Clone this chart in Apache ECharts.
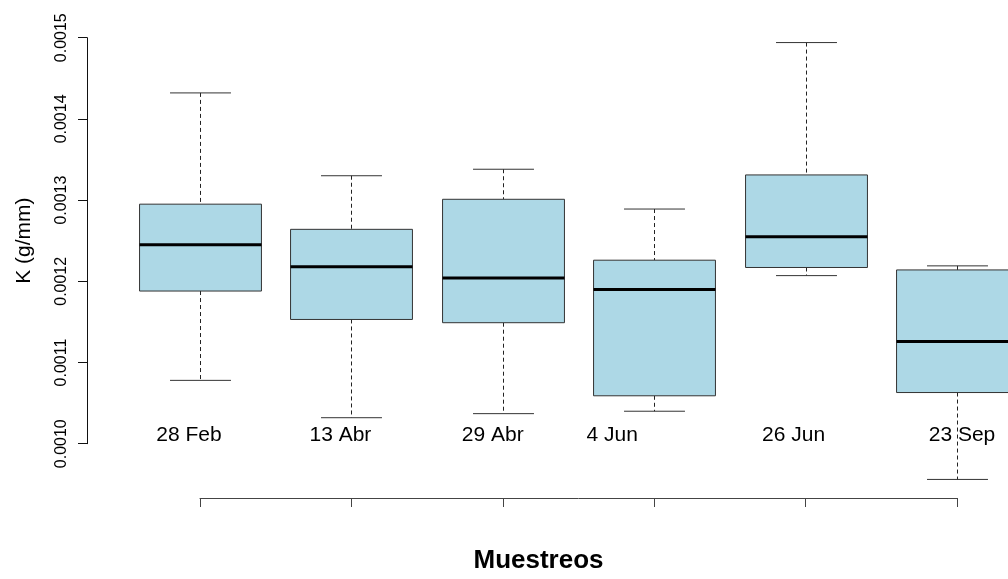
<!DOCTYPE html>
<html>
<head>
<meta charset="utf-8">
<title>K (g/mm) por muestreo</title>
<script src="https://cdn.jsdelivr.net/npm/echarts@6/dist/echarts.min.js"></script>
<style>
  html, body { margin: 0; padding: 0; background: #ffffff; overflow: hidden; }
  #chart { width: 1008px; height: 579px; }
</style>
</head>
<body>
<div id="chart"></div>
<script>
// Sampling dates
const categories = ['28 Feb', '13 Abr', '29 Abr', '4 Jun', '26 Jun', '23 Sep'];

// Five-number summaries of K (g/mm) for each sampling date
const whiskerLow  = [0.001078, 0.001032, 0.001037, 0.001040, 0.001207, 0.000956];
const quartile1   = [0.001188, 0.001153, 0.001149, 0.001059, 0.001217, 0.001063];
const medians     = [0.001245, 0.001218, 0.001204, 0.001190, 0.001255, 0.001126];
const quartile3   = [0.001295, 0.001264, 0.001301, 0.001226, 0.001331, 0.001214];
const whiskerHigh = [0.001432, 0.001330, 0.001338, 0.001289, 0.001494, 0.001219];

// Value axis range and tick step
const yMin = 0.0010;
const yMax = 0.0015;
const yStep = 0.0001;

const boxData = categories.map((c, i) => [
  i, whiskerLow[i], quartile1[i], medians[i], quartile3[i], whiskerHigh[i]
]);

const FONT = '"Liberation Sans", Arial, Helvetica, sans-serif';

// Horizontal nudge (px) of each date label relative to its box
const labelNudge = [-11, -11, -10, -42, -12, 5];

// Rich-text styles that shift each date label sideways via asymmetric padding
const labelRich = {};
labelNudge.forEach((dx, i) => {
  labelRich['d' + i] = {
    fontFamily: FONT,
    fontSize: 21,
    color: '#000',
    padding: dx < 0 ? [0, -2 * dx, 0, 0] : [0, 0, 0, 2 * dx]
  };
});

// Box-and-whisker glyph: filled box, thick median, dashed whiskers, half-width caps
function renderBox(params, api) {
  const i = api.value(0);
  const band = api.size([1, 0])[0];
  const boxW = band * 0.805;
  const capHalf = boxW / 4;
  const pLow = api.coord([i, api.value(1)]);
  const pQ1 = api.coord([i, api.value(2)]);
  const pMed = api.coord([i, api.value(3)]);
  const pQ3 = api.coord([i, api.value(4)]);
  const pHigh = api.coord([i, api.value(5)]);
  const cx = Math.round(pMed[0]) + 0.5;
  const left = cx - boxW / 2;
  const whisker = { stroke: '#222', lineWidth: 1, lineDash: [4, 3] };
  const cap = { stroke: '#333', lineWidth: 1 };
  return {
    type: 'group',
    children: [
      { type: 'line', shape: { x1: cx, y1: pHigh[1], x2: cx, y2: pQ3[1] }, style: whisker },
      { type: 'line', shape: { x1: cx, y1: pQ1[1], x2: cx, y2: pLow[1] }, style: whisker },
      { type: 'line', shape: { x1: cx - capHalf, y1: pHigh[1], x2: cx + capHalf, y2: pHigh[1] }, style: cap },
      { type: 'line', shape: { x1: cx - capHalf, y1: pLow[1], x2: cx + capHalf, y2: pLow[1] }, style: cap },
      {
        type: 'rect',
        shape: { x: left, y: pQ3[1], width: boxW, height: pQ1[1] - pQ3[1] },
        style: { fill: '#ADD8E6', stroke: '#333', lineWidth: 1 }
      },
      { type: 'line', shape: { x1: left, y1: pMed[1], x2: left + boxW, y2: pMed[1] }, style: { stroke: '#000', lineWidth: 3 } }
    ]
  };
}

const chart = echarts.init(document.getElementById('chart'), null, {
  renderer: 'canvas', width: 1008, height: 579
});

chart.setOption({
  backgroundColor: '#ffffff',
  animation: false,
  grid: { left: 200, width: 757, top: 37.7, height: 413, containLabel: false },
  xAxis: {
    type: 'category',
    data: categories,
    boundaryGap: false,
    position: 'bottom',
    offset: 54.3,
    axisLine: { show: true, onZero: false, lineStyle: { color: '#444', width: 1 } },
    axisTick: { show: true, length: 9, alignWithLabel: true, interval: 0, lineStyle: { color: '#444' } },
    axisLabel: {
      show: true,
      inside: true,
      interval: 0,
      margin: 52,
      fontFamily: FONT,
      fontSize: 21,
      color: '#000',
      formatter: (v, i) => '{d' + i + '|' + v + '}',
      rich: labelRich
    },
    splitLine: { show: false },
    name: 'Muestreos',
    nameLocation: 'middle',
    nameGap: 50,
    nameTextStyle: {
      fontFamily: FONT,
      fontSize: 26,
      fontWeight: 'bold',
      color: '#000',
      padding: [0, 80, 0, 0]
    }
  },
  yAxis: {
    type: 'value',
    min: yMin,
    max: yMax,
    interval: yStep,
    position: 'left',
    offset: 113,
    axisLine: { show: true, lineStyle: { color: '#111', width: 1 } },
    axisTick: { show: true, length: 9, lineStyle: { color: '#111' } },
    axisLabel: {
      rotate: 90,
      margin: 17,
      fontFamily: FONT,
      fontSize: 16,
      color: '#000',
      formatter: (v) => v.toFixed(4)
    },
    splitLine: { show: false },
    name: 'K (g/mm)',
    nameLocation: 'middle',
    nameGap: 52,
    nameTextStyle: { fontFamily: FONT, fontSize: 21, color: '#000' }
  },
  series: [{
    type: 'custom',
    name: 'K',
    renderItem: renderBox,
    clip: false,
    encode: { x: 0, y: [1, 2, 3, 4, 5] },
    data: boxData
  }]
});
</script>
</body>
</html>
